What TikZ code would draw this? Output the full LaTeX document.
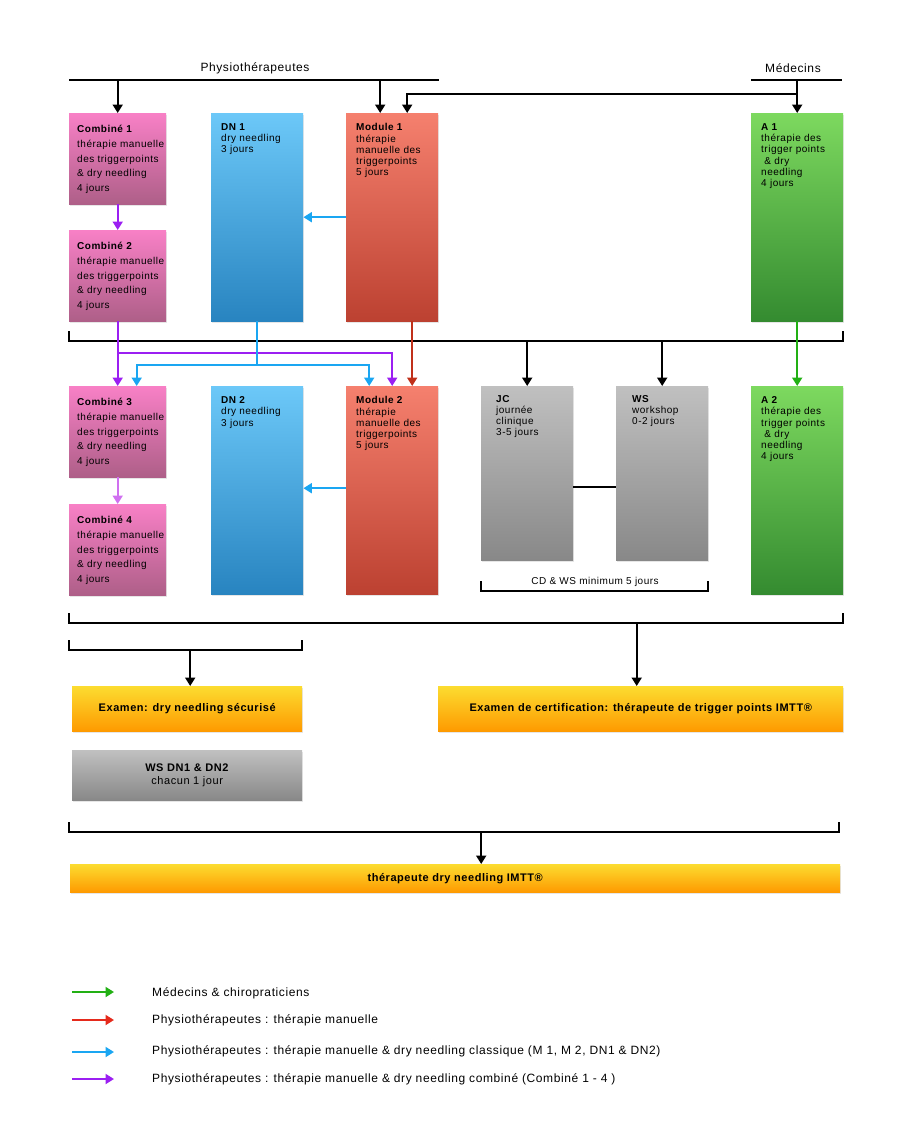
\documentclass[tikz,border=0pt]{standalone}
\usepackage{fontspec}
\setmainfont{Liberation Sans}[LetterSpace=5]
\usetikzlibrary{arrows.meta, shadows}

\definecolor{pinktop}{HTML}{F880C6}
\definecolor{pinkbot}{HTML}{AE5F88}
\definecolor{bluetop}{HTML}{6CC8F8}
\definecolor{bluebot}{HTML}{2884C0}
\definecolor{redtop}{HTML}{F5806E}
\definecolor{redbot}{HTML}{BC4131}
\definecolor{greentop}{HTML}{7DD95F}
\definecolor{greenbot}{HTML}{348B30}
\definecolor{graytop}{HTML}{C0C0C0}
\definecolor{graybot}{HTML}{888888}
\definecolor{orangetop}{HTML}{FCDC30}
\definecolor{orangebot}{HTML}{FE9A00}
\definecolor{arrpurple}{HTML}{9B1FF2}
\definecolor{arrlilac}{HTML}{D070F0}
\definecolor{arrblue}{HTML}{1AA6F2}
\definecolor{arrred}{HTML}{C0301A}
\definecolor{arrgreen}{HTML}{22B014}
\definecolor{legred}{HTML}{E52A1C}

\begin{document}
\begin{tikzpicture}[x=1pt, y=-1pt]

\tikzset{box/.style = {anchor=north west, inner sep=0pt, drop shadow={opacity=0.2, shadow xshift=1pt, shadow yshift=-1.5pt}}}
\tikzset{pinkbox/.style = {box, minimum width=97pt, minimum height=91pt, top color=pinktop, bottom color=pinkbot}}
\tikzset{tallbox/.style = {box, minimum width=92pt, minimum height=208pt}}
\tikzset{boxtext/.style = {anchor=north west, align=left, inner sep=0pt, font=\fontsize{10}{11.2}\selectfont}}
\tikzset{combtext/.style = {boxtext, font=\fontsize{10}{14.8}\selectfont}}
\tikzset{exambox/.style = {box, minimum height=45pt, top color=orangetop, bottom color=orangebot, font=\fontsize{11}{13}\selectfont\bfseries}}
\tikzset{line/.style = {line width=2pt}}
\tikzset{arr/.style = {line, -{Triangle[length=8.5pt,width=10pt]}}}
\tikzset{legtext/.style = {anchor=west, inner sep=0pt, font=\fontsize{12}{14}\selectfont}}

\useasboundingbox (0,0) rectangle (904,1132);

% top headers
\node[font=\fontsize{12}{14}\selectfont] (physio) at (255,68) {Physiothérapeutes};
\node[font=\fontsize{12}{14}\selectfont] (medecins) at (793,68) {Médecins};
\draw[line] (69,80) -- (439,80);
\draw[line] (751,80) -- (842,80);
\coordinate (toph) at (0,80);
\coordinate (medh) at (0,94);

% row 1
\node[pinkbox] (c1) at (69,113) {};
\node[combtext] (c1t) at ([shift={(8pt,-12pt)}]c1.north west) {\textbf{Combiné 1}\\thérapie manuelle\\des triggerpoints\\\& dry needling\\4 jours};
\node[pinkbox] (c2) at (69,230) {};
\node[combtext] (c2t) at ([shift={(8pt,-12pt)}]c2.north west) {\textbf{Combiné 2}\\thérapie manuelle\\des triggerpoints\\\& dry needling\\4 jours};
\node[tallbox, top color=bluetop, bottom color=bluebot] (dn1) at (211,113) {};
\node[boxtext] (dn1t) at ([shift={(10pt,-10.5pt)}]dn1.north west) {\textbf{DN 1}\\dry needling\\3 jours};
\node[tallbox, top color=redtop, bottom color=redbot] (m1) at (346,113) {};
\node[boxtext] (m1t) at ([shift={(10pt,-10.5pt)}]m1.north west) {\textbf{Module 1}\\thérapie\\manuelle des\\triggerpoints\\5 jours};
\node[tallbox, top color=greentop, bottom color=greenbot] (a1) at (751,113) {};
\node[boxtext] (a1t) at ([shift={(10pt,-10.5pt)}]a1.north west) {\textbf{A 1}\\thérapie des\\trigger points\\\ \& dry\\needling\\4 jours};

% row 2
\node[pinkbox] (c3) at (69,386) {};
\node[combtext] (c3t) at ([shift={(8pt,-12pt)}]c3.north west) {\textbf{Combiné 3}\\thérapie manuelle\\des triggerpoints\\\& dry needling\\4 jours};
\node[pinkbox] (c4) at (69,504) {};
\node[combtext] (c4t) at ([shift={(8pt,-12pt)}]c4.north west) {\textbf{Combiné 4}\\thérapie manuelle\\des triggerpoints\\\& dry needling\\4 jours};
\node[tallbox, top color=bluetop, bottom color=bluebot] (dn2) at (211,386) {};
\node[boxtext] (dn2t) at ([shift={(10pt,-10.5pt)}]dn2.north west) {\textbf{DN 2}\\dry needling\\3 jours};
\node[tallbox, top color=redtop, bottom color=redbot] (m2) at (346,386) {};
\node[boxtext] (m2t) at ([shift={(10pt,-10.5pt)}]m2.north west) {\textbf{Module 2}\\thérapie\\manuelle des\\triggerpoints\\5 jours};
\node[tallbox, minimum height=174pt, top color=graytop, bottom color=graybot] (jc) at (481,386) {};
\node[boxtext] (jct) at ([shift={(15pt,-9pt)}]jc.north west) {\textbf{JC}\\journée\\clinique\\3-5 jours};
\node[tallbox, minimum height=174pt, top color=graytop, bottom color=graybot] (ws) at (616,386) {};
\node[boxtext] (wst) at ([shift={(16pt,-9pt)}]ws.north west) {\textbf{WS}\\workshop\\0-2 jours};
\node[tallbox, top color=greentop, bottom color=greenbot] (a2) at (751,386) {};
\node[boxtext] (a2t) at ([shift={(10pt,-10.5pt)}]a2.north west) {\textbf{A 2}\\thérapie des\\trigger points\\\ \& dry\\needling\\4 jours};

% exams
\node[exambox, minimum width=230pt] (ex1) at (72,686) {};
\node[font=\fontsize{11}{13}\selectfont\bfseries] (ex1t) at (ex1.center) {Examen: dry needling sécurisé};
\node[exambox, minimum width=405pt] (ex2) at (438,686) {};
\node[font=\fontsize{11}{13}\selectfont\bfseries] (ex2t) at (ex2.center) {Examen de certification: thérapeute de trigger points IMTT®};
\node[box, minimum width=230pt, minimum height=50pt, top color=graytop, bottom color=graybot] (wsdn) at (72,750) {};
\node[align=center, font=\fontsize{11}{12.5}\selectfont] (wsdnt) at (wsdn.center) {\textbf{WS DN1 \& DN2}\\chacun 1 jour};
\node[exambox, minimum width=770pt, minimum height=28pt] (fin) at (70,864) {};
\node[font=\fontsize{11}{13}\selectfont\bfseries] (fint) at (fin.center) {thérapeute dry needling IMTT®};

% brackets
\draw[line] (69,331) -- (69,341) -- (843,341) -- (843,331);
\coordinate (br1) at (0,341);
\draw[line] (481,581) -- (481,591) -- (708,591) -- (708,581);
\node[font=\fontsize{10}{12}\selectfont] (cdws) at (595,582) {CD \& WS minimum 5 jours};
\draw[line] (69,613) -- (69,623) -- (843,623) -- (843,613);
\coordinate (br2) at (0,623);
\draw[line] (69,640) -- (69,650) -- (302,650) -- (302,640);
\coordinate (br3) at (0,650);
\draw[line] (69,822) -- (69,832) -- (839,832) -- (839,822);
\coordinate (br4) at (0,832);

% black arrows
\draw[arr] (c1.north |- toph) -- (c1.north);
\draw[arr] ([xshift=-12pt]m1.north |- toph) -- ([xshift=-12pt]m1.north);
\draw[arr] (a1.north |- toph) -- (a1.north);
\draw[arr] (a1.north |- medh) -| ([xshift=15pt]m1.north);
\draw[arr] (jc.north |- br1) -- (jc.north);
\draw[arr] (ws.north |- br1) -- (ws.north);
\draw[line] ([yshift=-14pt]jc.east) -- ([yshift=-14pt]ws.west);
\draw[arr] ([xshift=-4pt]ex2.north |- br2) -- ([xshift=-4pt]ex2.north);
\draw[arr] ([xshift=3pt]ex1.north |- br3) -- ([xshift=3pt]ex1.north);
\draw[arr] ([xshift=26pt]fin.north |- br4) -- ([xshift=26pt]fin.north);

% coloured arrows
\coordinate (pj) at (0,353);
\coordinate (bj) at (0,365);
\draw[arr, arrpurple] (c1.south) -- (c2.north);
\draw[arr, arrpurple] (c2.south) -- (c3.north);
\draw[arr, arrpurple] (c2.south |- pj) -| (m2.north);
\draw[line, arrblue] (dn1.south) -- (dn1.south |- bj);
\draw[arr, arrblue] (dn1.south |- bj) -| ([xshift=19pt]c3.north);
\draw[arr, arrblue] (dn1.south |- bj) -| ([xshift=-23pt]m2.north);
\draw[arr, arrred] ([xshift=20pt]m1.south) -- ([xshift=20pt]m2.north);
\draw[arr, arrgreen] (a1.south) -- (a2.north);
\draw[arr, arrblue] (m1.west) -- (dn1.east);
\draw[arr, arrblue] ([yshift=2pt]m2.west) -- ([yshift=2pt]dn2.east);
\draw[arr, arrlilac] (c3.south) -- (c4.north);

% legend
\coordinate (lg1a) at (72,992);  \coordinate (lg1b) at (114,992);
\coordinate (lg2a) at (72,1020); \coordinate (lg2b) at (114,1020);
\coordinate (lg3a) at (72,1052); \coordinate (lg3b) at (114,1052);
\coordinate (lg4a) at (72,1079); \coordinate (lg4b) at (114,1079);
\draw[arr, arrgreen] (lg1a) -- (lg1b);
\draw[arr, legred] (lg2a) -- (lg2b);
\draw[arr, arrblue] (lg3a) -- (lg3b);
\draw[arr, arrpurple] (lg4a) -- (lg4b);
\node[legtext] (lg1t) at (152,993) {Médecins \& chiropraticiens};
\node[legtext] (lg2t) at (152,1020) {Physiothérapeutes : thérapie manuelle};
\node[legtext] (lg3t) at (152,1051) {Physiothérapeutes : thérapie manuelle \& dry needling classique (M 1, M 2, DN1 \& DN2)};
\node[legtext] (lg4t) at (152,1079) {Physiothérapeutes : thérapie manuelle \& dry needling combiné (Combiné 1 - 4 )};
\end{tikzpicture}
\end{document}
